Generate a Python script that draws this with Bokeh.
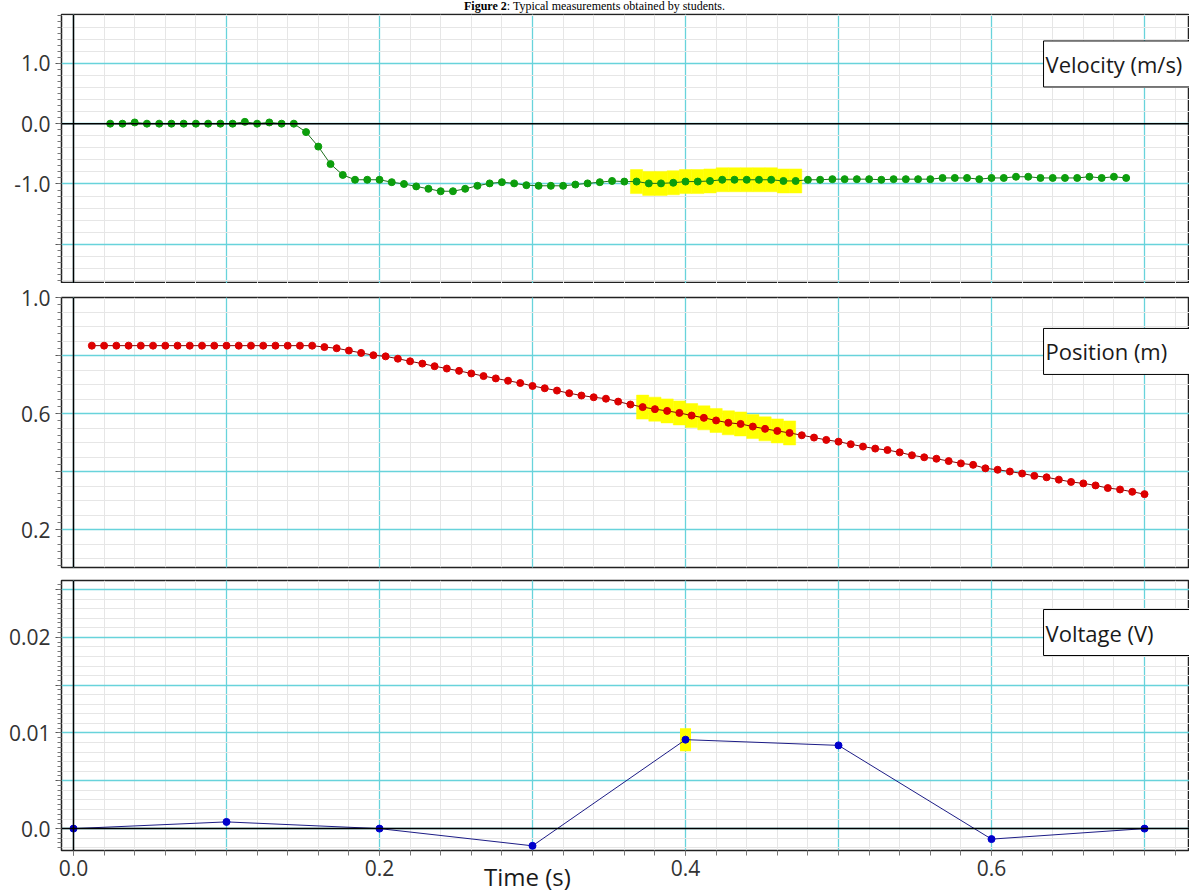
import numpy as np
from bokeh.plotting import figure
from bokeh.models import Range1d, FixedTicker, Span, Label, Div, LinearAxis
from bokeh.layouts import column
from bokeh.embed import file_html
from bokeh.resources import INLINE

# ---------------- data ----------------
vel_t = [0.024, 0.032, 0.040, 0.048, 0.056, 0.064, 0.072, 0.080, 0.088, 0.096,
         0.104, 0.112, 0.120, 0.128, 0.136, 0.144, 0.152, 0.160, 0.168, 0.176,
         0.184, 0.192, 0.200, 0.208, 0.216, 0.224, 0.232, 0.240, 0.248, 0.256,
         0.264, 0.272, 0.280, 0.288, 0.296, 0.304, 0.312, 0.320, 0.328, 0.336,
         0.344, 0.352, 0.360, 0.368, 0.376, 0.384, 0.392, 0.400, 0.408, 0.416,
         0.424, 0.432, 0.440, 0.448, 0.456, 0.464, 0.472, 0.480, 0.488, 0.496,
         0.504, 0.512, 0.520, 0.528, 0.536, 0.544, 0.552, 0.560, 0.568, 0.576,
         0.584, 0.592, 0.600, 0.608, 0.616, 0.624, 0.632, 0.640, 0.648, 0.656,
         0.664, 0.672, 0.680, 0.688]
vel_v = [0.00, 0.00, 0.02, 0.00, 0.00, 0.00, 0.00, 0.00, 0.00, 0.00,
         0.00, 0.03, 0.00, 0.02, 0.00, 0.00, -0.14, -0.38, -0.67, -0.85,
         -0.93, -0.93, -0.93, -0.97, -1.00, -1.04, -1.08, -1.12, -1.12, -1.08,
         -1.03, -0.99, -0.97, -0.99, -1.02, -1.03, -1.03, -1.03, -1.01, -0.99,
         -0.97, -0.95, -0.96, -0.96, -0.99, -0.99, -0.98, -0.96, -0.96, -0.95,
         -0.93, -0.93, -0.93, -0.93, -0.93, -0.95, -0.95, -0.93, -0.93, -0.92,
         -0.92, -0.92, -0.92, -0.93, -0.92, -0.92, -0.92, -0.92, -0.90, -0.90,
         -0.90, -0.92, -0.90, -0.90, -0.88, -0.88, -0.90, -0.90, -0.90, -0.90,
         -0.88, -0.90, -0.88, -0.90]

pos_t = [0.012, 0.020, 0.028, 0.036, 0.044, 0.052, 0.060, 0.068, 0.076, 0.084,
         0.092, 0.100, 0.108, 0.116, 0.124, 0.132, 0.140, 0.148, 0.156, 0.164,
         0.172, 0.180, 0.188, 0.196, 0.204, 0.212, 0.220, 0.228, 0.236, 0.244,
         0.252, 0.260, 0.268, 0.276, 0.284, 0.292, 0.300, 0.308, 0.316, 0.324,
         0.332, 0.340, 0.348, 0.356, 0.364, 0.372, 0.380, 0.388, 0.396, 0.404,
         0.412, 0.420, 0.428, 0.436, 0.444, 0.452, 0.460, 0.468, 0.476, 0.484,
         0.492, 0.500, 0.508, 0.516, 0.524, 0.532, 0.540, 0.548, 0.556, 0.564,
         0.572, 0.580, 0.588, 0.596, 0.604, 0.612, 0.620, 0.628, 0.636, 0.644,
         0.652, 0.660, 0.668, 0.676, 0.684, 0.692, 0.700]
pos_v = [0.834, 0.834, 0.834, 0.834, 0.834, 0.834, 0.834, 0.834, 0.834, 0.834,
         0.834, 0.834, 0.834, 0.834, 0.834, 0.834, 0.834, 0.834, 0.834, 0.829,
         0.825, 0.817, 0.809, 0.801, 0.797, 0.789, 0.780, 0.772, 0.763, 0.755,
         0.747, 0.738, 0.729, 0.721, 0.713, 0.705, 0.695, 0.687, 0.679, 0.670,
         0.662, 0.656, 0.651, 0.641, 0.631, 0.622, 0.615, 0.609, 0.602, 0.593,
         0.585, 0.576, 0.568, 0.564, 0.555, 0.547, 0.540, 0.533, 0.525, 0.517,
         0.509, 0.503, 0.494, 0.486, 0.479, 0.474, 0.466, 0.456, 0.449, 0.444,
         0.436, 0.428, 0.423, 0.411, 0.406, 0.400, 0.393, 0.385, 0.380, 0.372,
         0.364, 0.359, 0.352, 0.343, 0.338, 0.330, 0.322]

volt_t = [0.0, 0.1, 0.2, 0.3, 0.4, 0.5, 0.6, 0.7]
volt_v = [0.0, 0.0007, 0.0, -0.0018, 0.0093, 0.0087, -0.0011, 0.0]

vel_highlight = (0.366, 0.474)     # highlighted time window (s)
pos_highlight = (0.370, 0.470)
volt_highlight = 0.4

x_ticks = [0.0, 0.2, 0.4, 0.6]
x_tick_labels = ["0.0", "0.2", "0.4", "0.6"]
vel_ticks = [-2.0, -1.0, 0.0, 1.0]
vel_tick_labels = ["", "-1.0", "0.0", "1.0"]
pos_ticks = [0.2, 0.4, 0.6, 0.8, 1.0]
pos_tick_labels = ["0.2", "", "0.6", "", "1.0"]
volt_ticks = [0.0, 0.005, 0.01, 0.015, 0.02, 0.025]
volt_tick_labels = ["0.0", "", "0.01", "", "0.02", ""]

panel_names = ["Velocity (m/s)", "Position (m)", "Voltage (V)"]
title_html = "<b>Figure 2</b>: Typical measurements obtained by students."
x_label = "Time (s)"
x_label_at = 0.2967

# ---------------- styling ----------------
FONT = "Open Sans"
CYAN = "#68d3db"
MINOR = "#e6e6e6"
YELLOW = "#ffff00"
W = 1189
LEFT = 61
TICK_FS = "21px"

x_range = Range1d(-0.00784, 0.7294)


def steps(a, b, step):
    return [round(v, 6) for v in np.arange(a, b + step / 2, step)]


def make_panel(frame_h, top, bottom, y_range, yticks, ylabels, y_minor_ticks,
               y_grid_minor, show_x):
    p = figure(width=W, height=top + frame_h + bottom, x_range=x_range, y_range=y_range,
               output_backend="svg", toolbar_location=None,
               min_border_left=LEFT, min_border_right=0,
               min_border_top=top, min_border_bottom=bottom)
    p.background_fill_color = "white"
    p.border_fill_color = "white"
    p.outline_line_color = "#222222"
    p.outline_line_width = 1.5

    p.xgrid.ticker = FixedTicker(ticks=steps(0.0, 0.7, 0.1),
                                 minor_ticks=steps(0.0, 0.72, 0.02))
    p.ygrid.ticker = FixedTicker(ticks=yticks, minor_ticks=y_grid_minor)
    for g in (p.xgrid, p.ygrid):
        g.grid_line_color = CYAN
        g.grid_line_width = 1.3
        g.minor_grid_line_color = MINOR
        g.minor_grid_line_width = 1

    ya = p.yaxis[0]
    ya.ticker = FixedTicker(ticks=yticks, minor_ticks=y_minor_ticks)
    ya.major_label_overrides = {t: l for t, l in zip(yticks, ylabels)}
    ya.major_label_text_font = FONT
    ya.major_label_text_font_size = TICK_FS
    ya.major_label_text_color = "#333333"
    ya.major_label_standoff = 5
    ya.axis_line_color = "#222222"
    ya.major_tick_out = 6
    ya.major_tick_in = 0
    ya.minor_tick_out = 4
    ya.minor_tick_in = 0
    ya.major_tick_line_color = "#555555"
    ya.minor_tick_line_color = "#777777"

    xa = p.xaxis[0]
    if show_x:
        xa.ticker = FixedTicker(ticks=x_ticks, minor_ticks=steps(0.0, 0.72, 0.02))
        xa.major_label_overrides = {t: l for t, l in zip(x_ticks, x_tick_labels)}
        xa.major_label_text_font = FONT
        xa.major_label_text_font_size = TICK_FS
        xa.major_label_text_color = "#333333"
        xa.major_label_standoff = 4
        xa.axis_line_color = "#222222"
        xa.major_tick_out = 5
        xa.major_tick_in = 0
        xa.minor_tick_out = 5
        xa.minor_tick_in = 0
        xa.major_tick_line_color = "#555555"
        xa.minor_tick_line_color = "#777777"
    else:
        xa.visible = False

    p.add_layout(Span(location=0, dimension="height", line_color="black", line_width=1.5))
    return p


def name_box(p, text, y):
    p.add_layout(Label(x=0.634, y=y, text=text, text_font=FONT, text_font_size="22px",
                       text_color="#1a1a1a", text_align="left", text_baseline="middle",
                       background_fill_color="white", border_line_color="black",
                       border_line_width=1,
                       padding=dict(left=2, right=70, top=8, bottom=8)))


def highlight(p, ts, vs, window):
    pts = [(t, v) for t, v in zip(ts, vs) if window[0] <= t <= window[1]]
    p.rect(x=[a for a, _ in pts], y=[b for _, b in pts], width=0.008, height=24,
           height_units="screen", fill_color=YELLOW, line_color=YELLOW, line_width=0.5)


# ---------------- velocity ----------------
p1 = make_panel(269, 1, 0, Range1d(-2.65, 1.81), vel_ticks, vel_tick_labels,
                steps(-2.6, 1.8, 0.1), steps(-2.6, 1.8, 0.2), False)
p1.add_layout(Span(location=0, dimension="width", line_color="black", line_width=1.5))
highlight(p1, vel_t, vel_v, vel_highlight)
p1.line(vel_t, vel_v, line_color="#1d6e1d", line_width=1)
p1.scatter(vel_t, vel_v, size=7, fill_color="#0c9e0c", line_color="#0c9e0c")
name_box(p1, panel_names[0], 0.99)

# ---------------- position ----------------
p2 = make_panel(270, 14, 6, Range1d(0.069, 1.0), pos_ticks, pos_tick_labels,
                steps(0.075, 1.0, 0.025), steps(0.1, 1.0, 0.05), False)
highlight(p2, pos_t, pos_v, pos_highlight)
p2.line(pos_t, pos_v, line_color="#7a0a0a", line_width=1)
p2.scatter(pos_t, pos_v, size=7, fill_color="#dd0000", line_color="#dd0000")
name_box(p2, panel_names[1], 0.814)

# ---------------- voltage ----------------
p3 = make_panel(270, 7, 45, Range1d(-0.00229, 0.02594), volt_ticks,
                volt_tick_labels, steps(-0.002, 0.0255, 0.0005),
                steps(-0.002, 0.025, 0.001), True)
p3.add_layout(Span(location=0, dimension="width", line_color="black", line_width=1.5))
hx = [(t, v) for t, v in zip(volt_t, volt_v) if abs(t - volt_highlight) < 1e-9]
p3.rect(x=[a for a, _ in hx], y=[b for _, b in hx], width=11, height=23,
        width_units="screen", height_units="screen", fill_color=YELLOW, line_color=None)
p3.line(volt_t, volt_v, line_color="#1c1c86", line_width=1)
p3.scatter(volt_t, volt_v, size=7, fill_color="#0000cc", line_color="#0000cc")
name_box(p3, panel_names[2], 0.0205)

# "Time (s)" sits in the band of the tick labels, left of centre, as in the original
time_axis = LinearAxis(ticker=FixedTicker(ticks=[x_label_at]),
                       major_label_overrides={x_label_at: x_label},
                       major_label_text_font=FONT, major_label_text_font_size="24px",
                       major_label_text_color="#1a1a1a", major_label_standoff=-19,
                       major_tick_out=0, major_tick_in=0, minor_tick_out=0,
                       minor_tick_in=0, axis_line_color=None,
                       major_tick_line_color=None, minor_tick_line_color=None)
p3.add_layout(time_axis, "below")

title = Div(text=title_html, width=W, height=13, margin=(0, 0, 0, 0),
            styles={"text-align": "center", "font-family": "Liberation Serif",
                    "font-size": "12px", "line-height": "13px", "color": "black"})

layout = column(title, p1, p2, p3, spacing=0)
open("out.html", "w").write(file_html(layout, INLINE))
